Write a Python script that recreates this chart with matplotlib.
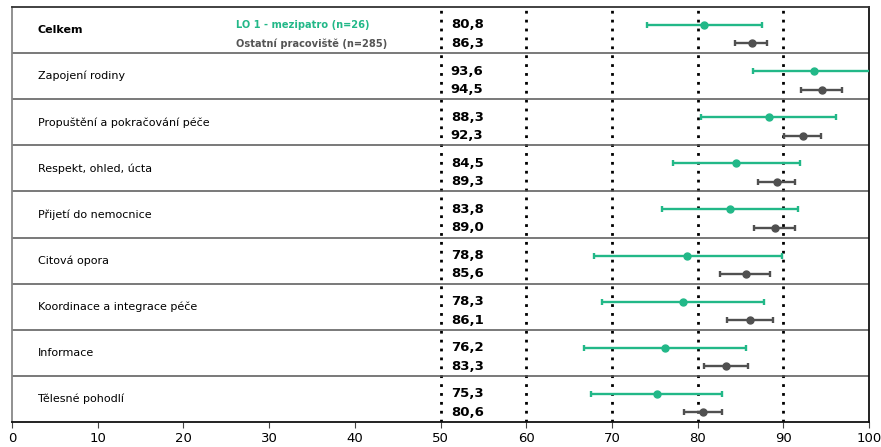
import numpy as np
import matplotlib.pyplot as plt

categories = ["Celkem", "Zapojení rodiny", "Propuštění a pokračování péče",
              "Respekt, ohled, úcta", "Přijetí do nemocnice", "Citová opora",
              "Koordinace a integrace péče", "Informace", "Tělesné pohodlí"]

# LO 1 - mezipatro
lo_mean = [80.8, 93.6, 88.3, 84.5, 83.8, 78.8, 78.3, 76.2, 75.3]
lo_low = [74.1, 86.5, 80.4, 77.1, 75.8, 67.9, 68.9, 66.7, 67.6]
lo_high = [87.5, 102.0, 96.1, 91.9, 91.7, 89.8, 87.7, 85.6, 82.9]

# Ostatní pracoviště
ost_mean = [86.3, 94.5, 92.3, 89.3, 89.0, 85.6, 86.1, 83.3, 80.6]
ost_low = [84.4, 92.1, 90.1, 87.1, 86.6, 82.6, 83.4, 80.7, 78.4]
ost_high = [88.1, 96.8, 94.4, 91.4, 91.4, 88.5, 88.8, 85.9, 82.8]

green = "#22b888"
grey = "#505050"

fig = plt.figure(figsize=(8.81, 4.47), dpi=100)
ax = fig.add_axes([12 / 881, 25 / 447, 857 / 881, 415 / 447])

n = len(categories)
rows = np.arange(n)
y_lo = rows + 0.39
y_ost = rows + 0.79

for v in [50, 60, 70, 80, 90]:
    ax.axvline(v, color="black", lw=2, ls=(0, (1, 2.2)), zorder=1)
for i in range(1, n):
    ax.axhline(i, color="#555555", lw=1.1, zorder=1)

lo_mean = np.array(lo_mean)
ost_mean = np.array(ost_mean)
ax.errorbar(lo_mean, y_lo,
            xerr=[lo_mean - np.array(lo_low), np.array(lo_high) - lo_mean],
            fmt="o", color=green, ms=5, lw=1.7, capsize=2.5, capthick=1.7, zorder=3)
ax.errorbar(ost_mean, y_ost,
            xerr=[ost_mean - np.array(ost_low), np.array(ost_high) - ost_mean],
            fmt="o", color=grey, ms=5, lw=1.7, capsize=2.5, capthick=1.7, zorder=3)

for i, cat in enumerate(categories):
    ax.text(3.0, i + 0.5, cat, va="center", ha="left", fontsize=8,
            fontweight="bold" if i == 0 else "normal")
    ax.text(51.2, y_lo[i], f"{lo_mean[i]:.1f}".replace(".", ","), va="center",
            ha="left", fontsize=9.5, fontweight="bold")
    ax.text(51.2, y_ost[i], f"{ost_mean[i]:.1f}".replace(".", ","), va="center",
            ha="left", fontsize=9.5, fontweight="bold")

ax.text(26.1, y_lo[0], "LO 1 - mezipatro (n=26)", va="center", ha="left",
        fontsize=7.1, fontweight="bold", color=green)
ax.text(26.1, y_ost[0], "Ostatní pracoviště (n=285)", va="center", ha="left",
        fontsize=7.1, fontweight="bold", color="#555555")

ax.set_xlim(0, 100)
ax.set_ylim(n, 0)
ax.set_yticks([])
ax.set_xticks(range(0, 101, 10))
ax.tick_params(axis="x", labelsize=9.5, length=4, color="#444444")
ax.spines["left"].set_color("#888888")
ax.spines["top"].set_color("#333333")
ax.spines["right"].set_color("#111111")
ax.spines["bottom"].set_color("#111111")
for s in ax.spines.values():
    s.set_linewidth(1.3)

fig.savefig("out.png", dpi=100)
